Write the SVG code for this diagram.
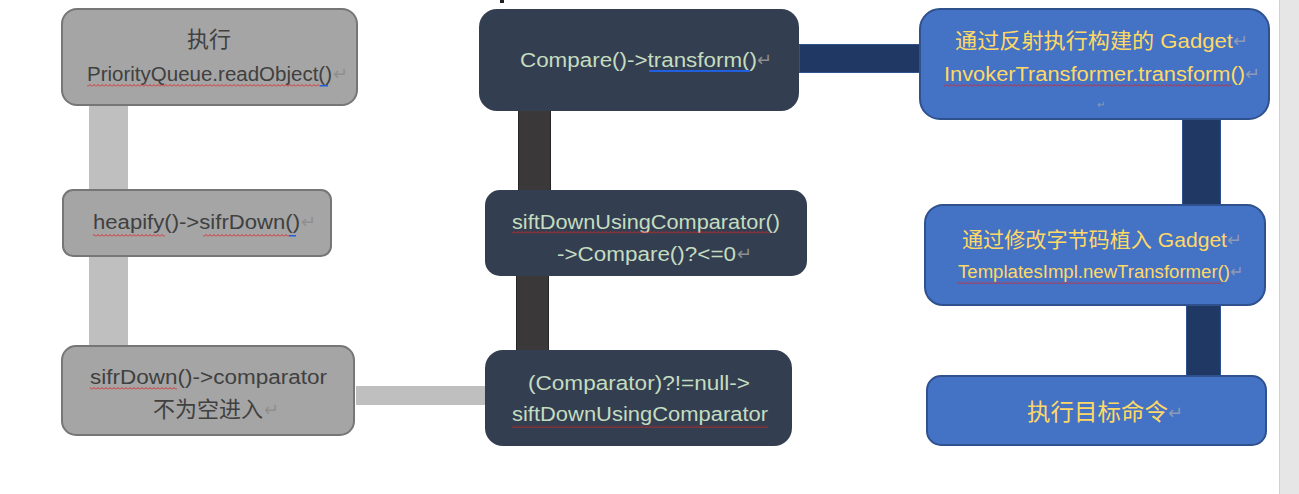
<svg xmlns="http://www.w3.org/2000/svg" width="1299" height="494" viewBox="0 0 1299 494">
<defs>
<pattern id="wave" width="4" height="3" patternUnits="userSpaceOnUse"><path d="M0,2.5 L2,0.5 L4,2.5" fill="none" stroke="#e02020" stroke-width="0.9"/></pattern>
<style>
text{font-family:"Liberation Sans","Noto Sans CJK SC",sans-serif;font-size:20px}
.gray .box{fill:#a5a5a5;stroke:#767676;stroke-width:2}
.gray text{fill:#404040}
.dark .box{fill:#333f50}
.dark text{fill:#c5dcc0}
.blue .box{fill:#4472c4;stroke:#2f528f;stroke-width:2}
.blue text{fill:#ffd966}
text.pm{fill:#8f8f8f;font-size:18px}
.blue text.pm{fill:#8d9bb5}
.sq{fill:url(#wave)}
.bl{fill:#2060e0}
.c-gray{fill:#bfbfbf}
.c-dark{fill:#3a3838;stroke:#262626;stroke-width:1}
.c-navy{fill:#1f3864;stroke:#2f528f;stroke-width:1}
</style>
</defs>
<rect x="0" y="0" width="1299" height="494" fill="#ffffff"/>
<rect x="1280" y="0" width="19" height="494" fill="#e6e6e6"/>
<line x1="1279.5" y1="0" x2="1279.5" y2="494" stroke="#d0d0d0"/>
<rect x="500" y="0" width="4" height="3" fill="#222"/>

<g id="connectors">
<rect class="c-gray" x="89" y="105" width="39" height="85"/>
<rect class="c-gray" x="89" y="257" width="39" height="89"/>
<rect class="c-gray" x="356" y="386" width="130" height="19"/>
<rect class="c-dark" x="518.5" y="110.5" width="32" height="80"/>
<rect class="c-dark" x="516.5" y="275.5" width="32" height="75"/>
<rect class="c-navy" x="799.5" y="44.5" width="121" height="28"/>
<rect class="c-navy" x="1182.5" y="118.5" width="38" height="87"/>
<rect class="c-navy" x="1186.5" y="304.5" width="34" height="71"/>
</g>

<g id="n-readobject" class="gray">
<rect class="box" x="62" y="9" width="295" height="96" rx="15"/>
<text x="209" y="47" text-anchor="middle" style="font-size:22px">执行</text>
<text x="87" y="81" textLength="245" lengthAdjust="spacingAndGlyphs">PriorityQueue.readObject()</text>
<text class="pm" x="333" y="80">↵</text>
<rect class="sq" x="87" y="84" width="233" height="3"/>
<rect class="bl" x="320" y="85" width="8" height="1.5"/>
</g>

<g id="n-heapify" class="gray">
<rect class="box" x="63" y="190" width="268" height="66" rx="10"/>
<text x="93" y="229" textLength="207" lengthAdjust="spacingAndGlyphs">heapify()-&gt;sifrDown()</text>
<text class="pm" x="301" y="228">↵</text>
<rect class="sq" x="93" y="234" width="72" height="3"/>
<rect class="sq" x="203" y="234" width="86" height="3"/>
<rect class="bl" x="289" y="235" width="7" height="1.5"/>
</g>

<g id="n-sifrdown" class="gray">
<rect class="box" x="62" y="346" width="292" height="89" rx="14"/>
<text x="90" y="384" textLength="237" lengthAdjust="spacingAndGlyphs">sifrDown()-&gt;comparator</text>
<text x="153" y="417" textLength="110" lengthAdjust="spacingAndGlyphs" style="font-size:22px">不为空进入</text>
<text class="pm" x="264" y="416">↵</text>
<rect class="sq" x="90" y="387" width="87" height="3"/>
</g>

<g id="n-compare" class="dark">
<rect class="box" x="479" y="9" width="320" height="102" rx="18"/>
<text x="520" y="67" textLength="237" lengthAdjust="spacingAndGlyphs">Compare()-&gt;transform()</text>
<text class="pm" x="757" y="66">↵</text>
<rect class="bl" x="649" y="70" width="101" height="2"/>
</g>

<g id="n-siftdown" class="dark">
<rect class="box" x="485" y="190" width="322" height="86" rx="15"/>
<text x="512" y="229" textLength="268" lengthAdjust="spacingAndGlyphs">siftDownUsingComparator()</text>
<text x="557" y="261" textLength="179" lengthAdjust="spacingAndGlyphs">-&gt;Compare()?&lt;=0</text>
<text class="pm" x="737" y="260">↵</text>
<rect class="sq" x="512" y="231" width="258" height="3"/>
</g>

<g id="n-comparator" class="dark">
<rect class="box" x="485" y="350" width="307" height="96" rx="18"/>
<text x="528" y="390" textLength="222" lengthAdjust="spacingAndGlyphs">(Comparator)?!=null-&gt;</text>
<text x="512" y="421" textLength="256" lengthAdjust="spacingAndGlyphs">siftDownUsingComparator</text>
<rect class="sq" x="512" y="425" width="256" height="3"/>
</g>

<g id="n-invoker" class="blue">
<rect class="box" x="920" y="9" width="349" height="110" rx="20"/>
<text x="955" y="48" textLength="278" lengthAdjust="spacingAndGlyphs" style="font-size:21px">通过反射执行构建的 Gadget</text>
<text class="pm" x="1233" y="47">↵</text>
<text x="944" y="81" textLength="301" lengthAdjust="spacingAndGlyphs">InvokerTransformer.transform()</text>
<text class="pm" x="1245" y="80">↵</text>
<text class="pm" x="1097" y="108" style="font-size:10px">↵</text>
<rect class="sq" x="944" y="84" width="288" height="3"/>
</g>

<g id="n-templates" class="blue">
<rect class="box" x="925" y="205" width="340" height="100" rx="18"/>
<text x="962" y="247" textLength="265" lengthAdjust="spacingAndGlyphs" style="font-size:21px">通过修改字节码植入 Gadget</text>
<text class="pm" x="1227" y="246">↵</text>
<text x="958" y="278" textLength="272" lengthAdjust="spacingAndGlyphs" style="font-size:18px">TemplatesImpl.newTransformer()</text>
<text class="pm" x="1230" y="277" style="font-size:16px">↵</text>
<rect class="sq" x="958" y="281" width="264" height="3"/>
</g>

<g id="n-exec" class="blue">
<rect class="box" x="927" y="376" width="339" height="69" rx="14"/>
<text x="1027" y="420" textLength="141" lengthAdjust="spacingAndGlyphs" style="font-size:23px">执行目标命令</text>
<text class="pm" x="1168" y="419">↵</text>
</g>
</svg>
